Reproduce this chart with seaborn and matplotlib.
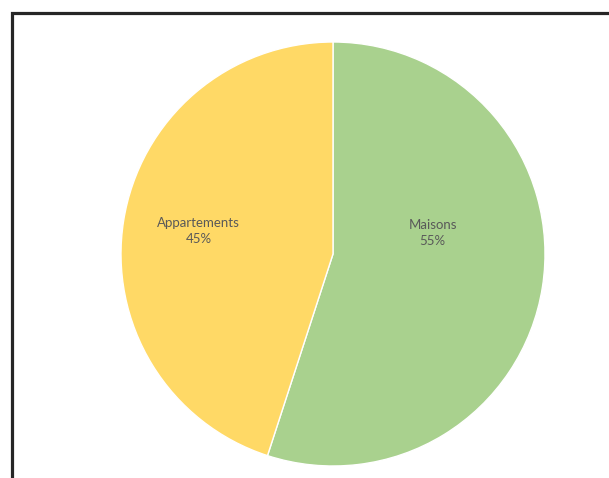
import matplotlib.pyplot as plt
import matplotlib.patches as mpatches
import seaborn as sns

# données du graphique
categories = ['Maisons', 'Appartements']
valeurs = [55, 45]
couleurs = ['#A9D18E', '#FFD966']

sns.set_style("white")
plt.rcParams['font.family'] = ['Lato', 'DejaVu Sans']

fig = plt.figure(figsize=(6.09, 4.78), dpi=100)
ax = fig.add_axes([119.5 / 609, 12 / 478, 427 / 609, 424 / 478])

wedges, _ = ax.pie(valeurs, colors=couleurs, startangle=90, counterclock=False,
                   wedgeprops=dict(edgecolor='white', linewidth=1))
ax.set_xlim(-1, 1)
ax.set_ylim(-1, 1)
ax.set_aspect('equal')
ax.axis('off')

# étiquettes placées comme dans l'original
positions = {'Maisons': (0.47, 0.10), 'Appartements': (-0.634, 0.108)}
for cat, val in zip(categories, valeurs):
    x, y = positions[cat]
    ax.text(x, y, f"{cat}\n{val}%", ha='center', va='center',
            fontsize=9.5, color='#595959', linespacing=1.35)

# cadre noir (coin supérieur gauche visible)
cadre = mpatches.Rectangle((11.5 / 609, -0.2), 1.2, 1.2 - 12.5 / 478,
                           transform=fig.transFigure, fill=False,
                           edgecolor='#262626', linewidth=2.3, clip_on=False)
fig.patches.append(cadre)

plt.savefig("out.png", dpi=100)
